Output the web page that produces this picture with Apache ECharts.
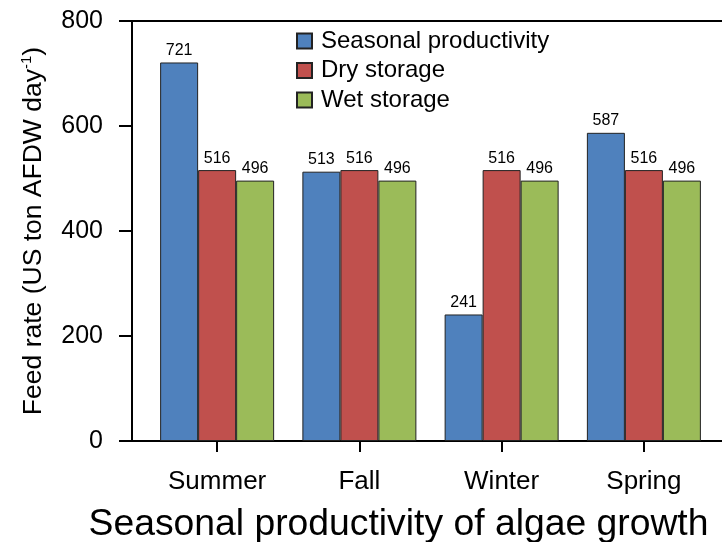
<!DOCTYPE html>
<html>
<head>
<meta charset="utf-8">
<script src="https://cdn.jsdelivr.net/npm/echarts@6/dist/echarts.min.js"></script>
<style>html,body{margin:0;padding:0;background:#fff}#c{width:722px;height:542px}</style>
</head>
<body>
<div id="c"></div>
<script>
var categories = ['Summer', 'Fall', 'Winter', 'Spring'];
var seasonal = [721, 513, 241, 587];
var dry = [516, 516, 516, 516];
var wet = [496, 496, 496, 496];
var seriesNames = ['Seasonal productivity', 'Dry storage', 'Wet storage'];
var yTicks = [0, 200, 400, 600, 800];

var FONT = '"Liberation Sans", Arial, sans-serif';
var chart = echarts.init(document.getElementById('c'));
var labelCfg = { show: true, position: 'top', distance: 4, fontSize: 16, color: '#000', fontFamily: FONT };
function bar(name, data, color) {
  return {
    name: name, type: 'bar', data: data, xAxisIndex: 0, yAxisIndex: 0,
    barWidth: 38, barGap: '0%',
    itemStyle: { color: color, borderColor: '#222', borderWidth: 1 },
    label: labelCfg
  };
}
chart.setOption({
  animation: false,
  textStyle: { fontFamily: FONT },
  grid: [
    { left: 146, right: 7, top: 21, bottom: 101, outerBoundsMode: 'none', containLabel: false },
    { left: 132, right: -20, top: 21, bottom: 101, outerBoundsMode: 'none', containLabel: false, show: true, borderColor: '#000', borderWidth: 2, backgroundColor: 'transparent' }
  ],
  legend: {
    orient: 'vertical', left: 291, top: 24, icon: 'rect',
    itemWidth: 15, itemHeight: 15, itemGap: 5.5,
    data: seriesNames,
    textStyle: { fontSize: 24, color: '#000', fontFamily: FONT, lineHeight: 24, padding: [0, 0, 0, 4] }
  },
  xAxis: [
    {
      type: 'category', gridIndex: 0, data: categories,
      axisLine: { show: false },
      axisTick: { show: true, alignWithLabel: true, length: 11, lineStyle: { color: '#000', width: 2 } },
      axisLabel: { fontSize: 26, color: '#000', margin: 28, fontFamily: FONT },
      name: 'Seasonal productivity of algae growth',
      nameLocation: 'middle', nameGap: 65,
      nameTextStyle: { fontSize: 37.3, color: '#000', fontFamily: FONT, padding: [0, 64, 0, 0] }
    },
    { type: 'value', gridIndex: 1, show: false, min: 0, max: 1 }
  ],
  yAxis: [
    { type: 'value', gridIndex: 0, min: 0, max: 800, interval: 200, show: false },
    {
      type: 'value', gridIndex: 1, min: yTicks[0], max: yTicks[yTicks.length - 1], interval: 200,
      axisLine: { show: true, lineStyle: { color: '#000', width: 2 } },
      axisTick: { show: true, length: 13, lineStyle: { color: '#000', width: 2 } },
      splitLine: { show: false },
      axisLabel: { fontSize: 25, color: '#000', margin: 29, fontFamily: FONT },
      name: '{n|Feed rate (US ton AFDW day}{s|-1}{n|)}',
      nameLocation: 'middle', nameGap: 83, nameRotate: 90,
      nameTextStyle: {
        color: '#000', fontFamily: FONT,
        rich: {
          n: { fontSize: 26.5, color: '#000', fontFamily: FONT, lineHeight: 30 },
          s: { fontSize: 15, color: '#000', fontFamily: FONT, verticalAlign: 'top', lineHeight: 30, padding: [0, 0, 10, 0] }
        }
      }
    }
  ],
  series: [
    bar(seriesNames[0], seasonal, '#4F81BD'),
    bar(seriesNames[1], dry, '#C0504D'),
    bar(seriesNames[2], wet, '#9BBB59')
  ]
});
</script>
</body>
</html>
